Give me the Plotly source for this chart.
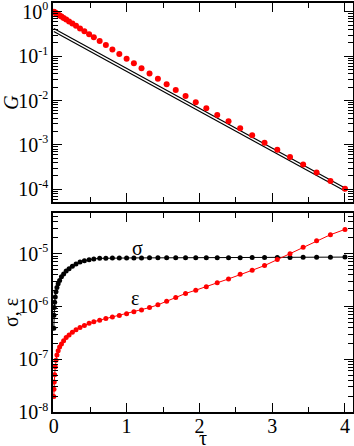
import plotly.graph_objects as go

# ------------------------------
# data
# ------------------------------
tau = [0, 0.002, 0.006, 0.012, 0.02, 0.03, 0.043, 0.06, 0.08, 0.105, 0.135, 0.17,
       0.21, 0.255, 0.305, 0.36, 0.42, 0.485, 0.55, 0.63, 0.715, 0.805, 0.9, 1.0,
       1.1, 1.205, 1.315, 1.43, 1.55, 1.675, 1.81, 1.95, 2.095, 2.245, 2.4, 2.56,
       2.725, 2.895, 3.07, 3.245, 3.425, 3.61, 3.8, 4.0]

g_dots = [1.0, 0.995, 0.986, 0.973, 0.955, 0.933, 0.906, 0.871, 0.830, 0.782, 0.728,
          0.670, 0.608, 0.546, 0.484, 0.424, 0.366, 0.313, 0.267, 0.219, 0.178, 0.142,
          0.112, 0.0879, 0.0689, 0.0533, 0.0407, 0.0309, 0.0232, 0.0173, 0.0126,
          0.00912, 0.00668, 0.00473, 0.00339, 0.00237, 0.00164, 0.00112, 0.000776,
          0.000531, 0.000359, 0.000237, 0.000153, 0.000102]

fit_tau = [0, 4]
fit_upper = [0.422, 1.064e-4]
fit_lower = [0.361, 9.1e-5]

sigma = [3.85e-7, 6.8e-7, 9.5e-7, 1.2e-6, 1.51e-6, 1.9e-6, 2.29e-6, 2.69e-6, 3.09e-6,
         3.63e-6, 4.12e-6, 4.68e-6, 5.19e-6, 5.75e-6, 6.38e-6, 6.92e-6, 7.33e-6,
         7.67e-6, 7.94e-6, 8.13e-6, 8.2e-6, 8.25e-6, 8.27e-6, 8.28e-6, 8.3e-6, 8.3e-6,
         8.31e-6, 8.32e-6, 8.33e-6, 8.34e-6, 8.35e-6, 8.36e-6, 8.37e-6, 8.38e-6,
         8.39e-6, 8.4e-6, 8.42e-6, 8.44e-6, 8.46e-6, 8.48e-6, 8.5e-6, 8.53e-6, 8.56e-6,
         8.6e-6]

eps = [1.97e-8, 2.7e-8, 3.7e-8, 5.1e-8, 7.2e-8, 9.6e-8, 1.2e-7, 1.45e-7, 1.7e-7,
       1.95e-7, 2.24e-7, 2.57e-7, 2.88e-7, 3.24e-7, 3.6e-7, 3.98e-7, 4.37e-7, 4.79e-7,
       5.13e-7, 5.5e-7, 5.89e-7, 6.3e-7, 6.76e-7, 7.24e-7, 7.9e-7, 8.6e-7, 9.5e-7,
       1.07e-6, 1.25e-6, 1.48e-6, 1.76e-6, 2.03e-6, 2.35e-6, 2.8e-6, 3.32e-6, 4.06e-6,
       4.84e-6, 5.94e-6, 7.71e-6, 1.0e-5, 1.32e-5, 1.76e-5, 2.28e-5, 2.88e-5]

x_ticks = [0, 1, 2, 3, 4]
x_minor = [0.5, 1.5, 2.5, 3.5]
g_exps = [-4, -3, -2, -1, 0]
s_exps = [-8, -7, -6, -5]


def decade_ticks(exps):
    vals = [10.0 ** e for e in exps]
    text = ["10<sup><span style='font-size:12px'>%d</span></sup>" % e for e in exps]
    minor = [m * 10.0 ** e for e in range(min(exps) - 1, max(exps) + 1) for m in range(2, 10)]
    return vals, text, minor


FONT = "Liberation Serif"
TXT = dict(family=FONT, size=20, color="black")

# ------------------------------
# traces
# ------------------------------
fig = go.Figure()
fig.add_trace(go.Scatter(x=fit_tau, y=fit_upper, mode="lines",
                         line=dict(color="black", width=1.2), xaxis="x", yaxis="y"))
fig.add_trace(go.Scatter(x=fit_tau, y=fit_lower, mode="lines",
                         line=dict(color="black", width=1.2), xaxis="x", yaxis="y"))
fig.add_trace(go.Scatter(x=tau, y=g_dots, mode="markers",
                         marker=dict(color="#ff0000", size=6), xaxis="x", yaxis="y"))
fig.add_trace(go.Scatter(x=tau, y=sigma, mode="lines+markers",
                         line=dict(color="black", width=1),
                         marker=dict(color="black", size=5), xaxis="x2", yaxis="y2"))
fig.add_trace(go.Scatter(x=tau, y=eps, mode="lines+markers",
                         line=dict(color="#ff0000", width=1),
                         marker=dict(color="#ff0000", size=5), xaxis="x2", yaxis="y2"))

# ------------------------------
# axes
# ------------------------------
common = dict(showline=True, linecolor="black", linewidth=1.5, mirror="ticks",
              ticks="inside", ticklen=9, tickwidth=1, tickcolor="black",
              showgrid=False, zeroline=False, automargin=False,
              ticklabeloverflow="allow", tickfont=TXT)

xcommon = dict(common, range=[-0.011, 4.11], tickmode="array", tickvals=x_ticks,
               ticklabelstandoff=-5,
               minor=dict(tickmode="array", tickvals=x_minor, ticks="inside",
                          ticklen=5, tickcolor="black", showgrid=False))

gv, gt, gm = decade_ticks(g_exps)
sv, st, sm = decade_ticks(s_exps)

fig.update_layout(
    width=354, height=446,
    margin=dict(l=53, r=1, t=3, b=34),
    paper_bgcolor="white", plot_bgcolor="white",
    showlegend=False,
    xaxis=dict(xcommon, anchor="y", showticklabels=False),
    xaxis2=dict(xcommon, anchor="y2"),
    yaxis=dict(common, type="log", domain=[0.5134, 1], anchor="x",
               range=[-4.29, 0.2], tickmode="array", tickvals=gv, ticktext=gt,
               ticklabelstandoff=-1,
               minor=dict(tickmode="array", tickvals=gm, ticks="inside",
                          ticklen=5, tickcolor="black", showgrid=False),
               title=dict(text="<i>G</i>", font=TXT, standoff=1)),
    yaxis2=dict(common, type="log", domain=[0, 0.4866], anchor="x2",
                range=[-8, -4.23], tickmode="array", tickvals=sv, ticktext=st,
                ticklabelstandoff=-1,
                minor=dict(tickmode="array", tickvals=sm, ticks="inside",
                           ticklen=5, tickcolor="black", showgrid=False),
                title=dict(text="σ, ε", font=TXT, standoff=1)),
    annotations=[
        dict(x=0.5, y=-0.0636, xref="paper", yref="paper", text="τ",
             showarrow=False, font=TXT, xanchor="center", yanchor="middle"),
        # curve labels
        dict(x=1.156, y=-4.9, xref="x2", yref="y2", text="σ", showarrow=False, font=TXT),
        dict(x=1.116, y=-5.843, xref="x2", yref="y2", text="ε", showarrow=False, font=TXT),
    ],
)

# the page body has a default 8px margin; remove it so the figure fills the window
fig.write_html("out.html", config={"displayModeBar": False},
               post_script="document.body.style.margin='0';")
